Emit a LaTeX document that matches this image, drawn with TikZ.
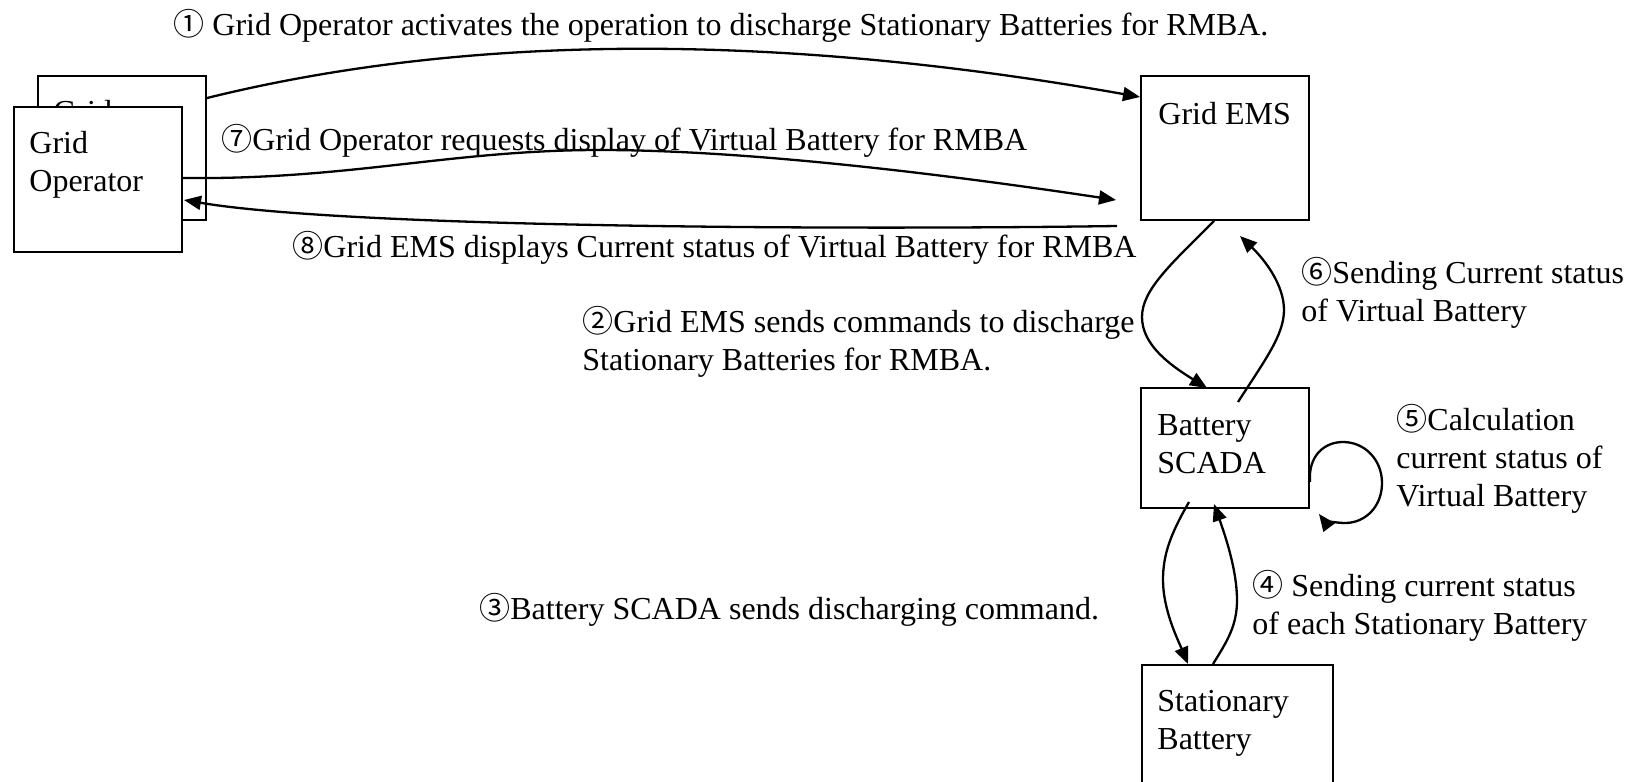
\documentclass[tikz,border=0pt]{standalone}
\usepackage{fontspec}
\setmainfont{Liberation Serif}
\newfontfamily\circfont{Noto Sans CJK JP}
\usetikzlibrary{arrows.meta,calc}
\newcommand\cn[1]{{\circfont\fontsize{15.5pt}{19pt}\selectfont #1}}
\newcommand\mlines[1]{\begin{tabular}[t]{@{}l@{}}#1\end{tabular}}
\tikzset{
  box/.style={draw, line width=1pt, fill=white, inner sep=0pt, anchor=north west},
  txt/.style={inner sep=0pt, anchor=base west, font=\fontsize{16pt}{19pt}\selectfont},
  conn/.style={line width=1.15pt},
  arr/.style={conn, -{Triangle[length=8.5pt,width=7pt]}}
}
\begin{document}
\begin{tikzpicture}[x=0.5pt,y=-0.5pt]
\renewcommand\arraystretch{1}
\clip (0,0) rectangle (1645,782);
\fill[white] (0,0) rectangle (1645,782);
% boxes
\node[box, minimum width=84pt, minimum height=72pt] (gopback) at (37,75) {};
\node[txt] (gopbackt) at ($(gopback.north west)+(16,47)$) {\mlines{Grid\\Operator}};
\node[box, minimum width=84pt, minimum height=72.5pt] (gop) at (13,106) {};
\node[txt] (gopt) at ($(gop.north west)+(16,47)$) {\mlines{Grid\\Operator}};
\node[box, minimum width=84pt, minimum height=72pt] (ems) at (1140,75) {};
\node[txt] (emst) at ($(ems.north west)+(18,49)$) {Grid EMS};
\node[box, minimum width=84pt, minimum height=60pt] (scada) at (1140,387) {};
\node[txt] (scadat) at ($(scada.north west)+(17,48)$) {\mlines{Battery\\SCADA}};
\node[box, minimum width=95.5pt, minimum height=80pt] (stat) at (1141,664) {};
\node[txt] (statt) at ($(stat.north west)+(16,47)$) {\mlines{Stationary\\Battery}};
% labels
\node[txt] (l1) at (173,35) {\cn{①} Grid Operator activates the operation to discharge Stationary Batteries for RMBA.};
\node[txt] (l7) at (221,150) {\cn{⑦}Grid Operator requests display of Virtual Battery for RMBA};
\node[txt] (l8) at (292,257) {\cn{⑧}Grid EMS displays Current status of Virtual Battery for RMBA};
\node[txt] (l2) at (582,332) {\mlines{\cn{②}Grid EMS sends commands to discharge\\Stationary Batteries for RMBA.}};
\node[txt] (l6) at (1301,283) {\mlines{\cn{⑥}Sending Current status\\of Virtual Battery}};
\node[txt] (l5) at (1396,430) {\mlines{\cn{⑤}Calculation\\current status of\\Virtual Battery}};
\node[txt] (l4) at (1252,596) {\mlines{\cn{④} Sending current status\\of each Stationary Battery}};
\node[txt] (l3) at (479,619) {\cn{③}Battery SCADA sends discharging command.};
% connectors
\draw[arr] ($(gopback.north east)+(0,23)$) .. controls (470,33) and (780,33) .. ($(ems.north west)+(0,22)$);
\draw[arr] ($(gop.north east)+(-1,72)$) .. controls (350,180) and (450,150) .. (600,150)
  .. controls (750,150) and (950,175) .. ($(ems.north west)+(-24,125)$);
\draw[arr] ($(ems.south west)+(-23,5)$) .. controls (850,230) and (350,228) .. ($(gop.north east)+(1,94)$);
\draw[arr] ($(ems.south)+(-11,0)$) .. controls (1170,265) and (1142,290) .. (1142,317)
  .. controls (1142,345) and (1170,365) .. ($(scada.north)+(-18,1)$);
\draw[arr] ($(scada.north)+(13,15)$) .. controls (1265,360) and (1284,335) .. (1284,310)
  .. controls (1284,285) and (1265,260) .. ($(ems.south)+(15,15)$);
\draw[arr] ($(scada.south east)+(0,-27)$) .. controls (1308,455) and (1325,442) .. (1343,442)
  .. controls (1365,442) and (1382,460) .. (1382,483)
  .. controls (1382,507) and (1365,523) .. (1345,523)
  .. controls (1332,523) and (1322,518) .. ($(scada.south east)+(9,5)$);
\draw[arr] ($(scada.south)+(-36,-7)$) .. controls (1170,535) and (1163,555) .. (1163,580)
  .. controls (1163,610) and (1178,640) .. ($(stat.north west)+(47,0)$);
\draw[arr] ($(stat.north west)+(72,0)$) .. controls (1228,640) and (1237,625) .. (1237,600)
  .. controls (1237,570) and (1225,535) .. ($(scada.south)+(-11,-5)$);
\end{tikzpicture}
\end{document}
